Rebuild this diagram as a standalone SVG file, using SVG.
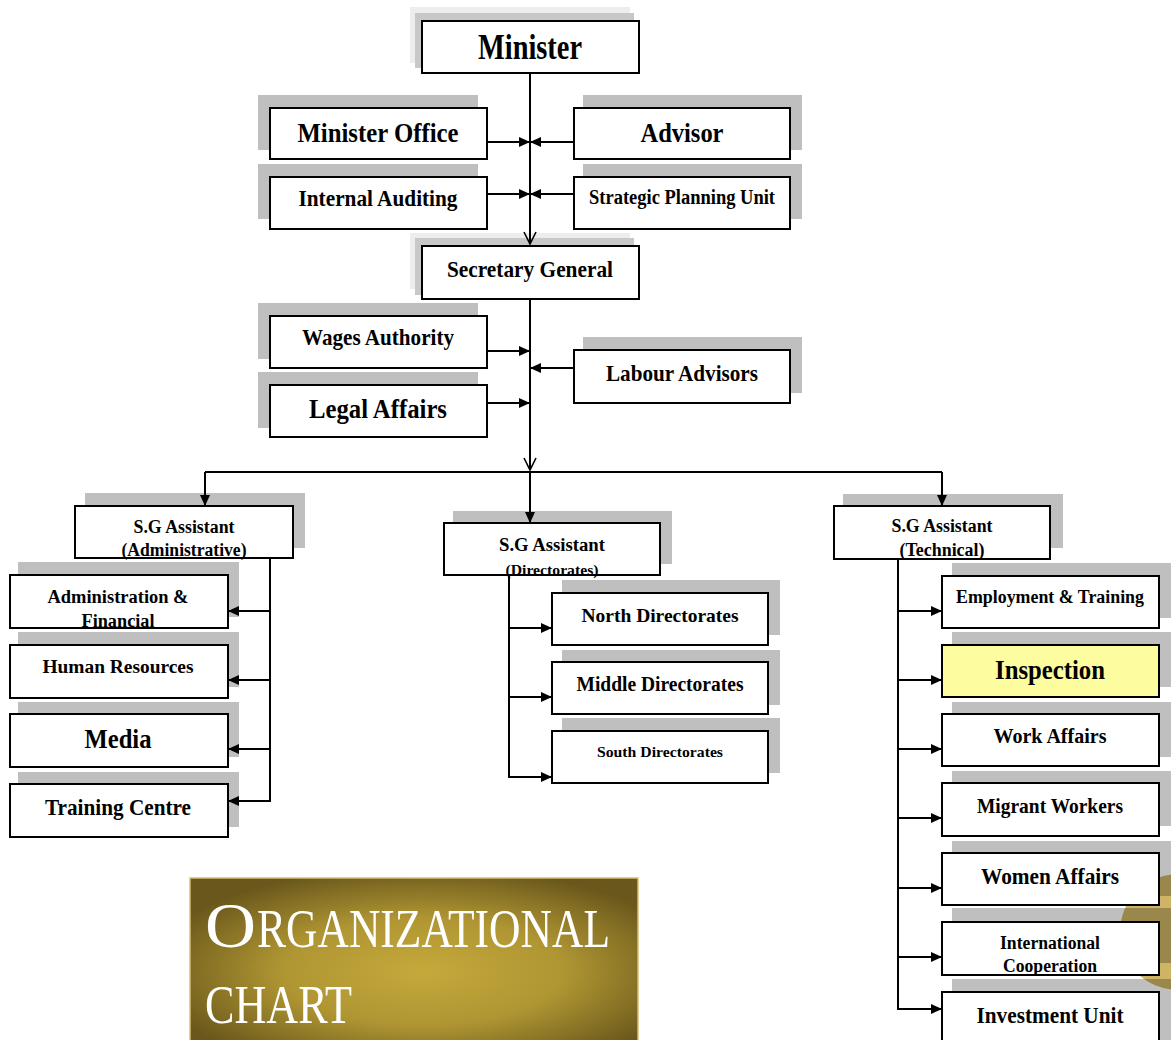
<svg xmlns="http://www.w3.org/2000/svg" width="1171" height="1040" viewBox="0 0 1171 1040">
<style>
.box{fill:#fff;stroke:#000;stroke-width:2}
.sh{fill:#000;fill-opacity:0.25}
.shl{fill:#ededed}
.shd{fill:#c8c8c8}
.t{font-family:"Liberation Serif","Times New Roman",serif;font-weight:bold;fill:#000;text-anchor:middle}
.ln{stroke:#000;stroke-width:2;fill:none}
.title{font-family:"Liberation Serif","Times New Roman",serif;fill:#fff}
</style>
<defs>
<marker id="ah" markerUnits="userSpaceOnUse" markerWidth="11" markerHeight="10" viewBox="0 0 11 10" refX="11" refY="5" orient="auto"><path d="M0,0 L11,5 L0,10 z" fill="#000"/></marker>
<marker id="av" markerUnits="userSpaceOnUse" markerWidth="14" markerHeight="14" viewBox="0 0 14 14" refX="13" refY="7" orient="auto"><path d="M1,1 L13,7 L1,13" fill="none" stroke="#000" stroke-width="1.6"/></marker>
<radialGradient id="gold" cx="0.52" cy="0.55" r="0.62">
<stop offset="0" stop-color="#c5a93b"/>
<stop offset="0.5" stop-color="#b09633"/>
<stop offset="1" stop-color="#69571b"/>
</radialGradient>
</defs>
<rect width="1171" height="1040" fill="#fff"/>
<circle cx="1178" cy="932" r="58" fill="#cdb565"/>

<g id="minister">
<rect class="shl" x="410" y="7" width="220" height="56"/>
<rect class="shd" x="415" y="13" width="219" height="55"/>
<rect class="box" x="422" y="21" width="217" height="52"/>
<text class="t" x="530" y="59" font-size="36" textLength="104" lengthAdjust="spacingAndGlyphs">Minister</text>
</g>
<g id="minister-office">
<rect class="sh" x="258" y="95" width="220" height="55"/>
<rect class="box" x="270" y="108" width="217" height="51"/>
<text class="t" x="378" y="142" font-size="28" textLength="161" lengthAdjust="spacingAndGlyphs">Minister Office</text>
</g>
<g id="advisor">
<rect class="sh" x="583" y="95" width="219" height="55"/>
<rect class="box" x="574" y="108" width="216" height="51"/>
<text class="t" x="682" y="142" font-size="28" textLength="83" lengthAdjust="spacingAndGlyphs">Advisor</text>
</g>
<g id="internal-auditing">
<rect class="sh" x="258" y="164" width="220" height="55"/>
<rect class="box" x="270" y="177" width="217" height="52"/>
<text class="t" x="378" y="206" font-size="23" textLength="159" lengthAdjust="spacingAndGlyphs">Internal Auditing</text>
</g>
<g id="strategic-planning">
<rect class="sh" x="583" y="164" width="219" height="55"/>
<rect class="box" x="574" y="177" width="216" height="52"/>
<text class="t" x="682" y="204" font-size="20" textLength="186" lengthAdjust="spacingAndGlyphs">Strategic Planning Unit</text>
</g>
<g id="secretary-general">
<rect class="shl" x="410" y="233" width="220" height="56"/>
<rect class="shd" x="415" y="238" width="219" height="57"/>
<rect class="box" x="422" y="246" width="217" height="53"/>
<text class="t" x="530" y="277" font-size="24" textLength="166" lengthAdjust="spacingAndGlyphs">Secretary General</text>
</g>
<g id="wages-authority">
<rect class="sh" x="258" y="303" width="220" height="56"/>
<rect class="box" x="270" y="316" width="217" height="52"/>
<text class="t" x="378" y="345" font-size="24" textLength="152" lengthAdjust="spacingAndGlyphs">Wages Authority</text>
</g>
<g id="legal-affairs">
<rect class="sh" x="258" y="372" width="220" height="56"/>
<rect class="box" x="270" y="385" width="217" height="52"/>
<text class="t" x="378" y="418" font-size="27" textLength="138" lengthAdjust="spacingAndGlyphs">Legal Affairs</text>
</g>
<g id="labour-advisors">
<rect class="sh" x="583" y="337" width="219" height="56"/>
<rect class="box" x="574" y="350" width="216" height="53"/>
<text class="t" x="682" y="381" font-size="24" textLength="152" lengthAdjust="spacingAndGlyphs">Labour Advisors</text>
</g>

<g id="sg-administrative">
<rect class="sh" x="85" y="493" width="220" height="55"/>
<rect class="box" x="75" y="506" width="218" height="52"/>
<text class="t" x="184" y="533" font-size="18" textLength="101" lengthAdjust="spacingAndGlyphs">S.G Assistant</text>
<text class="t" x="184" y="556" font-size="18" textLength="125" lengthAdjust="spacingAndGlyphs">(Administrative)</text>
</g>
<g id="sg-directorates">
<rect class="sh" x="453" y="511" width="219" height="53"/>
<rect class="box" x="444" y="523" width="216" height="52"/>
<text class="t" x="552" y="551" font-size="18" textLength="106" lengthAdjust="spacingAndGlyphs">S.G Assistant</text>
<text class="t" x="552" y="575" font-size="14" textLength="93" lengthAdjust="spacingAndGlyphs">(Directorates)</text>
</g>
<g id="sg-technical">
<rect class="sh" x="843" y="494" width="220" height="54"/>
<rect class="box" x="834" y="506" width="216" height="53"/>
<text class="t" x="942" y="532" font-size="18" textLength="101" lengthAdjust="spacingAndGlyphs">S.G Assistant</text>
<text class="t" x="942" y="556" font-size="18" textLength="85" lengthAdjust="spacingAndGlyphs">(Technical)</text>
</g>

<g id="administration-financial">
<rect class="sh" x="18" y="562" width="221" height="55"/>
<rect class="box" x="10" y="575" width="218" height="53"/>
<text class="t" x="118" y="603" font-size="18" textLength="141" lengthAdjust="spacingAndGlyphs">Administration &amp;</text>
<text class="t" x="118" y="627" font-size="18" textLength="73" lengthAdjust="spacingAndGlyphs">Financial</text>
</g>
<g id="human-resources">
<rect class="sh" x="18" y="632" width="221" height="55"/>
<rect class="box" x="10" y="645" width="218" height="53"/>
<text class="t" x="118" y="673" font-size="18" textLength="151" lengthAdjust="spacingAndGlyphs">Human Resources</text>
</g>
<g id="media">
<rect class="sh" x="18" y="702" width="221" height="55"/>
<rect class="box" x="10" y="714" width="218" height="53"/>
<text class="t" x="118" y="748" font-size="27" textLength="67" lengthAdjust="spacingAndGlyphs">Media</text>
</g>
<g id="training-centre">
<rect class="sh" x="18" y="772" width="221" height="55"/>
<rect class="box" x="10" y="784" width="218" height="53"/>
<text class="t" x="118" y="815" font-size="24" textLength="146" lengthAdjust="spacingAndGlyphs">Training Centre</text>
</g>

<g id="north-directorates">
<rect class="sh" x="562" y="580" width="218" height="55"/>
<rect class="box" x="552" y="593" width="216" height="52"/>
<text class="t" x="660" y="622" font-size="19" textLength="157" lengthAdjust="spacingAndGlyphs">North Directorates</text>
</g>
<g id="middle-directorates">
<rect class="sh" x="562" y="650" width="218" height="55"/>
<rect class="box" x="552" y="662" width="216" height="52"/>
<text class="t" x="660" y="691" font-size="20" textLength="167" lengthAdjust="spacingAndGlyphs">Middle Directorates</text>
</g>
<g id="south-directorates">
<rect class="sh" x="562" y="718" width="218" height="55"/>
<rect class="box" x="552" y="731" width="216" height="52"/>
<text class="t" x="660" y="757" font-size="15" textLength="126" lengthAdjust="spacingAndGlyphs">South Directorates</text>
</g>

<g id="employment-training">
<rect class="sh" x="952" y="563" width="220" height="55"/>
<rect class="box" x="942" y="576" width="217" height="52"/>
<text class="t" x="1050" y="603" font-size="18" textLength="188" lengthAdjust="spacingAndGlyphs">Employment &amp; Training</text>
</g>
<g id="inspection">
<rect class="sh" x="952" y="632" width="220" height="55"/>
<rect class="box" x="942" y="645" width="217" height="52" style="fill:#fdfc9e"/>
<text class="t" x="1050" y="679" font-size="27" textLength="110" lengthAdjust="spacingAndGlyphs">Inspection</text>
</g>
<g id="work-affairs">
<rect class="sh" x="952" y="702" width="220" height="55"/>
<rect class="box" x="942" y="714" width="217" height="52"/>
<text class="t" x="1050" y="743" font-size="22" textLength="113" lengthAdjust="spacingAndGlyphs">Work Affairs</text>
</g>
<g id="migrant-workers">
<rect class="sh" x="952" y="771" width="220" height="55"/>
<rect class="box" x="942" y="783" width="217" height="53"/>
<text class="t" x="1050" y="813" font-size="22" textLength="146" lengthAdjust="spacingAndGlyphs">Migrant Workers</text>
</g>
<g id="women-affairs">
<rect class="sh" x="952" y="841" width="220" height="55"/>
<rect class="box" x="942" y="853" width="217" height="52"/>
<text class="t" x="1050" y="884" font-size="23" textLength="138" lengthAdjust="spacingAndGlyphs">Women Affairs</text>
</g>
<g id="international-cooperation">
<rect class="sh" x="952" y="908" width="220" height="55"/>
<rect class="box" x="942" y="922" width="217" height="53"/>
<text class="t" x="1050" y="949" font-size="18" textLength="100" lengthAdjust="spacingAndGlyphs">International</text>
<text class="t" x="1050" y="972" font-size="18" textLength="94" lengthAdjust="spacingAndGlyphs">Cooperation</text>
</g>
<g id="investment-unit">
<rect class="sh" x="952" y="979" width="220" height="61"/>
<rect class="box" x="942" y="992" width="217" height="60"/>
<text class="t" x="1050" y="1023" font-size="24" textLength="147" lengthAdjust="spacingAndGlyphs">Investment Unit</text>
</g>

<g id="title">
<rect x="190" y="878" width="448" height="170" fill="url(#gold)" stroke="#d6bf74" stroke-width="1.5"/>
<text class="title" x="205" y="947" font-size="64" textLength="51" lengthAdjust="spacingAndGlyphs">O</text>
<text class="title" x="257" y="947" font-size="55" textLength="353" lengthAdjust="spacingAndGlyphs">RGANIZATIONAL</text>
<text class="title" x="205" y="1023" font-size="54" textLength="147" lengthAdjust="spacingAndGlyphs">CHART</text>
</g>

<g id="connectors">
<path class="ln" d="M530,73 V244" marker-end="url(#av)"/>
<path class="ln" d="M487,142 H530" marker-end="url(#ah)"/>
<path class="ln" d="M574,142 H530" marker-end="url(#ah)"/>
<path class="ln" d="M487,194 H530" marker-end="url(#ah)"/>
<path class="ln" d="M574,194 H530" marker-end="url(#ah)"/>
<path class="ln" d="M530,299 V470" marker-end="url(#av)"/>
<path class="ln" d="M487,351 H530" marker-end="url(#ah)"/>
<path class="ln" d="M487,403 H530" marker-end="url(#ah)"/>
<path class="ln" d="M574,368 H530" marker-end="url(#ah)"/>
<path class="ln" d="M205,472 H942"/>
<path class="ln" d="M205,472 V506" marker-end="url(#ah)"/>
<path class="ln" d="M530,472 V523" marker-end="url(#ah)"/>
<path class="ln" d="M942,472 V506" marker-end="url(#ah)"/>
<path class="ln" d="M270,558 V802"/>
<path class="ln" d="M270,611 H228" marker-end="url(#ah)"/>
<path class="ln" d="M270,680 H228" marker-end="url(#ah)"/>
<path class="ln" d="M270,749 H228" marker-end="url(#ah)"/>
<path class="ln" d="M270,801 H228" marker-end="url(#ah)"/>
<path class="ln" d="M509,575 V778"/>
<path class="ln" d="M509,628 H552" marker-end="url(#ah)"/>
<path class="ln" d="M509,697 H552" marker-end="url(#ah)"/>
<path class="ln" d="M509,777 H552" marker-end="url(#ah)"/>
<path class="ln" d="M898,559 V1010"/>
<path class="ln" d="M898,611 H942" marker-end="url(#ah)"/>
<path class="ln" d="M898,680 H942" marker-end="url(#ah)"/>
<path class="ln" d="M898,749 H942" marker-end="url(#ah)"/>
<path class="ln" d="M898,818 H942" marker-end="url(#ah)"/>
<path class="ln" d="M898,888 H942" marker-end="url(#ah)"/>
<path class="ln" d="M898,957 H942" marker-end="url(#ah)"/>
<path class="ln" d="M898,1009 H942" marker-end="url(#ah)"/>
</g>
</svg>
